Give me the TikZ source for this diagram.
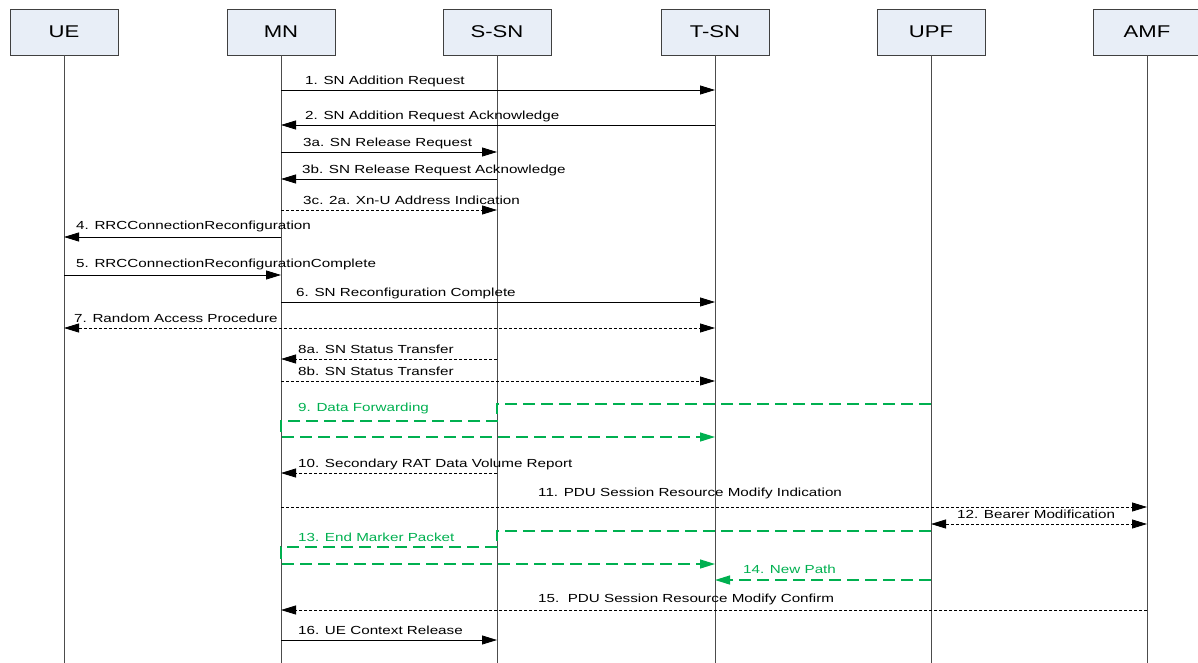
\documentclass[tikz,border=0pt]{standalone}
\usepackage{fontspec}
\setmainfont[FakeStretch=1.3]{Liberation Sans}
\usetikzlibrary{arrows.meta}
\definecolor{boxfill}{RGB}{232,238,247}
\definecolor{fwdgreen}{RGB}{0,176,80}

\begin{document}
\begin{tikzpicture}[x=1pt,y=-1pt,>={Triangle[length=15pt,width=9pt]}]
  \tikzstyle{entity}=[draw=black!75,fill=boxfill,minimum width=108pt,minimum height=46pt,inner sep=0pt,font=\fontsize{17}{20}\selectfont]
  \tikzstyle{life}=[draw=black!70,line width=0.9pt]
  \tikzstyle{msg}=[draw=black,line width=0.8pt]
  \tikzstyle{dmsg}=[msg,dash pattern=on 3pt off 2pt]
  \tikzstyle{fwd}=[draw=fwdgreen,line width=1.3pt,dash pattern=on 12pt off 6pt]
  \tikzstyle{lbl}=[anchor=base west,inner sep=0pt,font=\fontsize{11.7}{14}\selectfont]
  \tikzstyle{glbl}=[lbl,text=fwdgreen]
  \useasboundingbox (0,0) rectangle (1198,662);
  % entities and lifelines
  \foreach \name/\txt/\x in {ue/UE/64,mn/MN/281,ssn/S-SN/497,tsn/T-SN/715,upf/UPF/931,amf/AMF/1147} {
    \node [entity] (\name) at (\x,32) {\txt};
    \draw [life] (\name.south) -- ++(0,608);
  }
  % messages
  \node [lbl] (l1) at (305,84) {1. SN Addition Request};
  \draw [msg,->] (mn |- 0,90) -- (tsn |- 0,90);
  \node [lbl] (l2) at (305,119) {2. SN Addition Request Acknowledge};
  \draw [msg,->] (tsn |- 0,125) -- (mn |- 0,125);
  \node [lbl] (l3a) at (303,146) {3a. SN Release Request};
  \draw [msg,->] (mn |- 0,152) -- (ssn |- 0,152);
  \node [lbl] (l3b) at (302,173) {3b. SN Release Request Acknowledge};
  \draw [msg,->] (ssn |- 0,179) -- (mn |- 0,179);
  \node [lbl] (l3c) at (303,204) {3c. 2a. Xn-U Address Indication};
  \draw [dmsg,->] (mn |- 0,210) -- (ssn |- 0,210);
  \node [lbl] (l4) at (76,229) {4. RRCConnectionReconfiguration};
  \draw [msg,->] (mn |- 0,237) -- (ue |- 0,237);
  \node [lbl] (l5) at (76,267) {5. RRCConnectionReconfigurationComplete};
  \draw [msg,->] (ue |- 0,275) -- (mn |- 0,275);
  \node [lbl] (l6) at (296,296) {6. SN Reconfiguration Complete};
  \draw [msg,->] (mn |- 0,302) -- (tsn |- 0,302);
  \node [lbl] (l7) at (74,322) {7. Random Access Procedure};
  \draw [dmsg,<->] (ue |- 0,328) -- (tsn |- 0,328);
  \node [lbl] (l8a) at (298,353) {8a. SN Status Transfer};
  \draw [dmsg,->] (ssn |- 0,359) -- (mn |- 0,359);
  \node [lbl] (l8b) at (298,375) {8b. SN Status Transfer};
  \draw [dmsg,->] (mn |- 0,381) -- (tsn |- 0,381);
  % data forwarding
  \node [glbl] (l9) at (298,411) {9. Data Forwarding};
  \draw [fwd,->] (upf |- 0,404) -- (ssn |- 0,404) -- (ssn |- 0,421) -- (mn |- 0,421) -- (mn |- 0,437) -- (tsn |- 0,437);
  \node [lbl] (l10) at (298,467) {10. Secondary RAT Data Volume Report};
  \draw [dmsg,->] (ssn |- 0,473) -- (mn |- 0,473);
  \node [lbl] (l11) at (538,496) {11. PDU Session Resource Modify Indication};
  \draw [dmsg,->] (mn |- 0,507) -- (amf |- 0,507);
  \node [lbl] (l12) at (957,518) {12. Bearer Modification};
  \draw [dmsg,<->] (upf |- 0,524) -- (amf |- 0,524);
  % end marker
  \node [glbl] (l13) at (298,541) {13. End Marker Packet};
  \draw [fwd,->] (upf |- 0,531) -- (ssn |- 0,531) -- (ssn |- 0,547) -- (mn |- 0,547) -- (mn |- 0,564) -- (tsn |- 0,564);
  \node [glbl] (l14) at (743,573) {14. New Path};
  \draw [fwd,->] (upf |- 0,580) -- (tsn |- 0,580);
  \node [lbl] (l15) at (538,602) {15.\ \ PDU Session Resource Modify Confirm};
  \draw [dmsg,->] (amf |- 0,610) -- (mn |- 0,610);
  \node [lbl] (l16) at (298,634) {16. UE Context Release};
  \draw [msg,->] (mn |- 0,640) -- (ssn |- 0,640);
\end{tikzpicture}
\end{document}
